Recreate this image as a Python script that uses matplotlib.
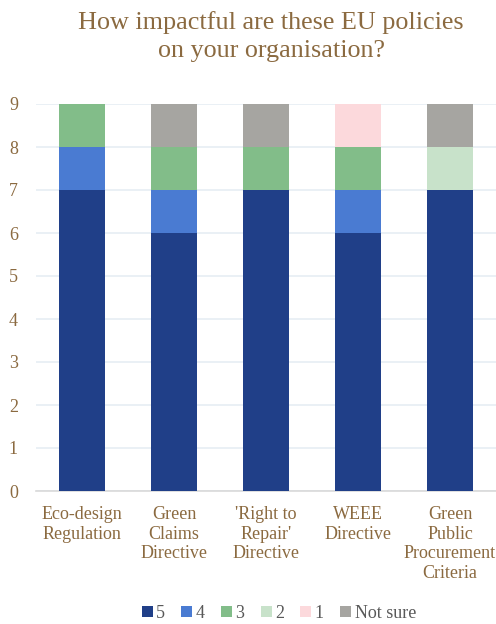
import matplotlib.pyplot as plt
import numpy as np

policies = ["Eco-design\nRegulation", "Green\nClaims\nDirective", "'Right to\nRepair'\nDirective",
            "WEEE\nDirective", "Green\nPublic\nProcurement\nCriteria"]
score_5 = [7, 6, 7, 6, 7]
score_4 = [1, 1, 0, 1, 0]
score_3 = [1, 1, 1, 1, 0]
score_2 = [0, 0, 0, 0, 1]
score_1 = [0, 0, 0, 1, 0]
not_sure = [0, 1, 1, 0, 1]

series = [("5", score_5, "#203f88"), ("4", score_4, "#4a7bd2"), ("3", score_3, "#82bd89"),
          ("2", score_2, "#c8e2ca"), ("1", score_1, "#fcd9dc"), ("Not sure", not_sure, "#a6a5a1")]

brown = "#8b6a40"
plt.rcParams['font.family'] = ['Liberation Serif', 'DejaVu Serif']

fig = plt.figure(figsize=(4.96, 6.24), dpi=100)
ax = fig.add_axes([36 / 496, 1 - 491 / 624, 460 / 496, (491 - 104) / 624])

x = np.arange(len(policies))
bottom = np.zeros(len(policies))
for name, vals, col in series:
    ax.bar(x, vals, 0.5, bottom=bottom, color=col, label=name, zorder=3)
    bottom += np.array(vals)

ax.set_xlim(-0.5, len(policies) - 0.5)
ax.set_ylim(0, 9)
ax.set_yticks(range(10))
ax.yaxis.grid(True, color="#e6edf3", linewidth=1.2, zorder=0)
for s in ["top", "right", "left"]:
    ax.spines[s].set_visible(False)
ax.spines["bottom"].set_color("#d9d9d9")
ax.spines["bottom"].set_linewidth(1.2)
ax.tick_params(length=0, colors=brown, labelsize=13)
ax.tick_params(axis='y', pad=13)
ax.tick_params(axis='x', pad=11)
ax.set_xticks(x)
ax.set_xticklabels(policies, linespacing=1.2)

fig.suptitle("How impactful are these EU policies\non your organisation?", color=brown,
             fontsize=18.8, y=0.982, x=0.547, linespacing=1.33)

ax.legend(loc="center", bbox_to_anchor=(0.528, -0.316), ncol=6, frameon=False, fontsize=13,
          labelcolor="#595959", handlelength=0.6, handleheight=0.6, handletextpad=0.2,
          columnspacing=0.9)

fig.savefig("out.png", dpi=100)
